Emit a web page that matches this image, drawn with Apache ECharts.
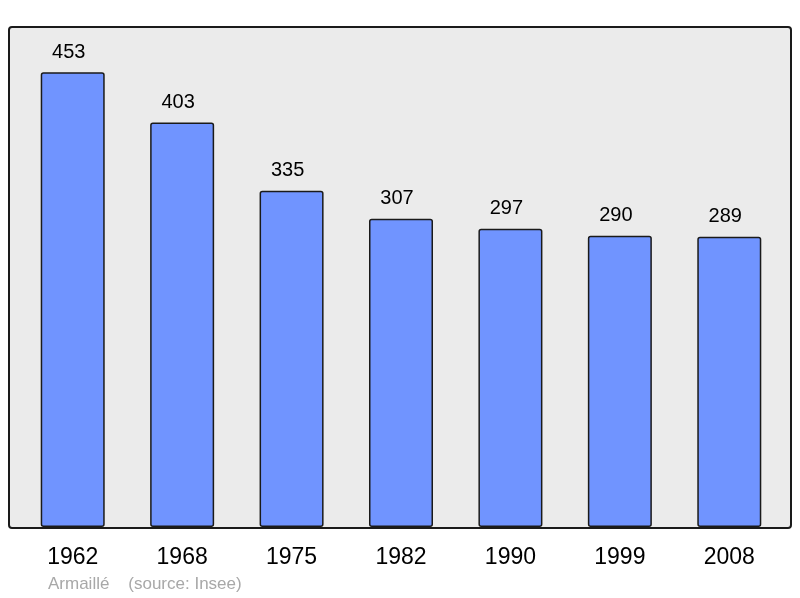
<!DOCTYPE html>
<html>
<head>
<meta charset="utf-8">
<script src="https://cdn.jsdelivr.net/npm/echarts@6/dist/echarts.min.js"></script>
<style>html,body{margin:0;padding:0;background:#fff}#main{width:800px;height:598px}</style>
</head>
<body>
<div id="main"></div>
<script>
// population per census year
const years = ['1962', '1968', '1975', '1982', '1990', '1999', '2008'];
const population = [453, 403, 335, 307, 297, 290, 289];
const commune = 'Armaillé';
const sourceText = '(source: Insee)';

const chart = echarts.init(document.getElementById('main'));
chart.setOption({
    animation: false,
    backgroundColor: '#fff',
    textStyle: {fontFamily: 'Liberation Sans, Arial, sans-serif'},
    graphic: [
        {
            type: 'rect',
            z: -10,
            shape: {x: 9, y: 27, width: 782, height: 501, r: 3},
            style: {fill: '#ebebeb', stroke: '#1a1a1a', lineWidth: 2}
        },
        {
            type: 'text',
            left: 48,
            top: 576,
            style: {text: commune + '    ' + sourceText, fill: '#a8a8a8', font: '17px Liberation Sans, Arial, sans-serif'}
        }
    ],
    grid: {left: 18, right: 16, top: 25, bottom: 71},
    xAxis: {
        type: 'category',
        data: years,
        axisLine: {show: false},
        axisTick: {show: false},
        axisLabel: {margin: 19, fontSize: 23, color: '#000'}
    },
    yAxis: {
        type: 'value',
        min: 0,
        max: 500,
        show: false,
        splitLine: {show: false}
    },
    series: [{
        type: 'bar',
        data: population,
        barWidth: 64,
        itemStyle: {color: '#7094ff', borderColor: '#1a1a1a', borderWidth: 1.5, borderRadius: 2},
        label: {show: true, position: 'top', distance: 10, offset: [-4, 0], fontSize: 20, color: '#000'}
    }]
});
</script>
</body>
</html>
